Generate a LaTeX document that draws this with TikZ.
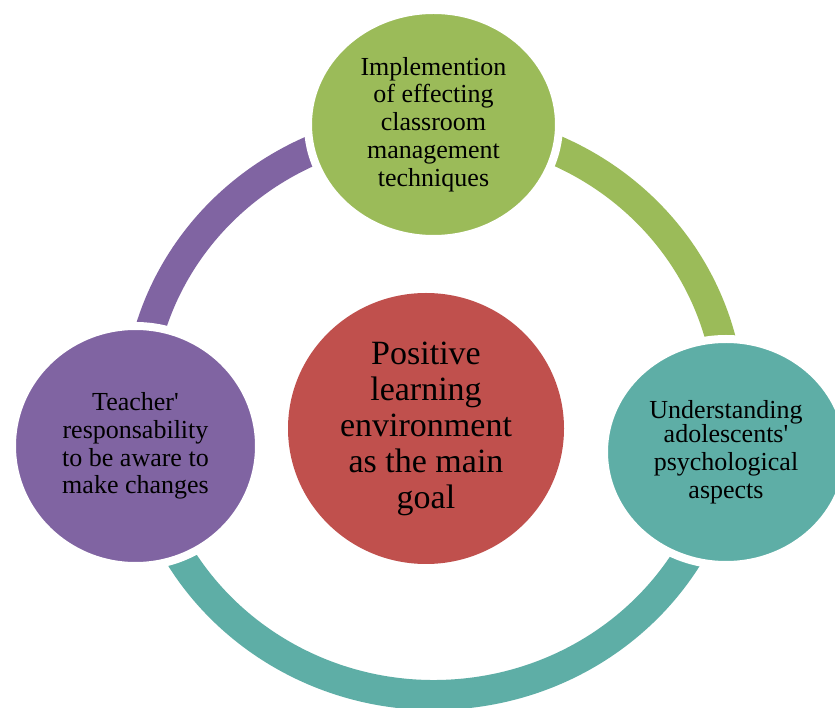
\documentclass[tikz,border=0pt]{standalone}
\usepackage{fontspec}
\setmainfont{Liberation Serif}
\usetikzlibrary{shapes.geometric}
\definecolor{cgreen}{RGB}{155,187,89}
\definecolor{cpurple}{RGB}{128,100,162}
\definecolor{cred}{RGB}{192,80,77}
\definecolor{cteal}{RGB}{94,174,166}
\newcommand{\apos}{\textquotesingle}
\tikzset{
  ringarc/.style={line width=30pt, line cap=butt},
  bubble/.style={ellipse, inner sep=0pt, draw=white, line width=8pt, align=center, text=black},
  smalltext/.style={font=\fontsize{26}{27.8}\selectfont},
  bigtext/.style={font=\fontsize{34}{36}\selectfont}
}
\begin{document}
\begin{tikzpicture}[x=1pt,y=1pt]
\clip (0,0) rectangle (835,707);
\fill[white] (0,0) rectangle (835,707);
\coordinate (rc) at (434,297);
% ring
\draw[ringarc, cpurple] (rc) ++({296*cos(90)},{285*sin(90)}) arc[start angle=90, end angle=187, x radius=296, y radius=285];
\draw[ringarc, cteal] (rc) ++({296*cos(186)},{285*sin(186)}) arc[start angle=186, end angle=352, x radius=296, y radius=285];
\draw[ringarc, cgreen] (rc) ++({296*cos(351)},{285*sin(351)}) arc[start angle=351, end angle=450, x radius=296, y radius=285];
% satellites
\node[bubble, smalltext, fill=cgreen, minimum width=251pt, minimum height=229pt] (top) at (433.5,582.5)
  {Implemention\\of effecting\\classroom\\management\\techniques};
\node[bubble, smalltext, fill=cpurple, minimum width=247pt, minimum height=240pt] (left) at (135.5,261)
  {Teacher\apos\\responsability\\to be aware to\\make changes};
\node[bubble, smalltext, fill=cteal, minimum width=244pt, minimum height=226pt] (right) at (726,255)
  {\raisebox{-3pt}{Understanding}\\adolescents\apos\\psychological\\aspects};
\node[ellipse, inner sep=0pt, fill=cred, align=center, bigtext, minimum width=276pt, minimum height=271pt] (center) at (426,278.5)
  {Positive\\learning\\environment\\as the main\\goal};
\end{tikzpicture}
\end{document}
